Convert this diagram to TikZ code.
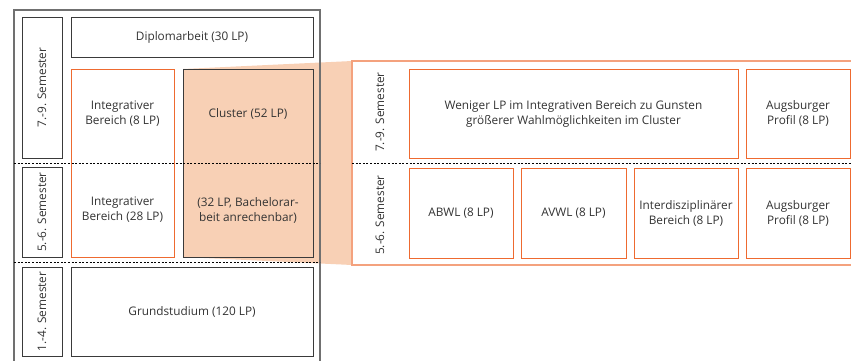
\documentclass[tikz,border=0pt]{standalone}
\usepackage{fontspec}
\setmainfont{Open Sans}
\usetikzlibrary{
    calc,
    positioning
}
\definecolor{framegray}{HTML}{707070}
\definecolor{boxgray}{HTML}{3A3A3A}
\definecolor{textgray}{HTML}{333333}
\definecolor{boxorange}{HTML}{EE6A30}
\definecolor{paleorange}{HTML}{F4A27E}
\definecolor{peach}{HTML}{F8D0B5}
\tikzset{
    every node/.style = {
        inner sep = 0pt,
        outer sep = 0pt,
        align = center,
        text = textgray,
        font = \fontsize{11.8}{15}\selectfont
    },
    size/.style 2 args = {
        minimum width = #1pt,
        minimum height = #2pt
    },
    graybox/.style = {
        draw = boxgray,
        line width = 1pt
    },
    orangebox/.style = {
        draw = boxorange,
        line width = 1pt,
        fill = white
    },
    semester/.style = {
        graybox,
        rotate = 90
    },
    sep line/.style = {
        draw = black,
        line width = 0.7pt,
        dash pattern = on 2pt off 1.6pt
    }
}

\begin{document}
\begin{tikzpicture}[x = 1pt, y = -1pt]
    \useasboundingbox (0,0) rectangle (851,360);
    \clip (0,0) rectangle (851,360);

    % detailed view on the right
    \node[draw = paleorange, line width = 1.4pt, fill = white, size = {560}{204},
          anchor = north west] (detail) at (352,61) {};

    % left side: Diplomstudiengang
    \node[graybox, size = {242}{40}] (diplom) at (192,37) {Diplomarbeit (30 LP)};
    \node[orangebox, size = {103}{188}] (integr) at (122.5,163) {};
    \node[graybox, fill = peach, size = {130}{188}] (cluster) at (248,163) {};
    \node[graybox, size = {242}{89}] (grund) at (192,311.5) {Grundstudium (120 LP)};

    \fill[peach] (cluster.north west) -- (detail.north west)
        -- (detail.south west) -- (cluster.south west) -- cycle;
    \draw[graybox, fill = peach] (cluster.north west) rectangle (cluster.south east);
    \draw[draw = paleorange, line width = 1.4pt] (detail.north west) -- (detail.south west);

    \node at ($(integr.north) + (0,45)$) {Integrativer\\Bereich (8 LP)};
    \node at ($(integr.south) + (0,-47)$) {Integrativer\\Bereich (28 LP)};
    \node at ($(cluster.north) + (0,45)$) {Cluster (52 LP)};
    \node at ($(cluster.south) + (0,-47)$) {(32 LP, Bachelorar-\\beit anrechenbar)};

    \node[semester, size = {141}{40}] (sem79) at (42,87.5) {7.-9. Semester};
    \node[semester, size = {90}{40}] (sem56) at (42,212) {5.-6. Semester};
    \node[semester, size = {89}{40}] (sem14) at (42,311.5) {1.-4. Semester};

    \draw[draw = framegray, line width = 1.3pt] (14,10) rectangle (320,400);
    \coordinate (upper) at (14,163);
    \coordinate (lower) at (14,262);
    \draw[sep line] (upper) -- ++(306,0);
    \draw[sep line] (lower) -- ++(306,0);

    % right side: Bachelor-/Masterstudiengang
    \node[rotate = 90] (rsem79) at (380,112) {7.-9. Semester};
    \node[rotate = 90] (rsem56) at (380,215) {5.-6. Semester};

    \node[orangebox, size = {329}{89}] (weniger) at (573.5,113.5)
        {Weniger LP im Integrativen Bereich zu Gunsten\\gr\"o\ss erer Wahlm\"oglichkeiten im Cluster};
    \node[orangebox, size = {104}{89}] (profil1) at (798,113.5) {Augsburger\\Profil (8 LP)};

    \draw[sep line] (detail.west |- upper) -- ++(520,0);

    \node[orangebox, size = {104}{90}] (abwl) at (461,213) {ABWL (8 LP)};
    \node[orangebox, size = {105}{90}] (avwl) at (573.5,213) {AVWL (8 LP)};
    \node[orangebox, size = {104}{90}] (inter) at (686,213) {Interdisziplin\"arer\\Bereich (8 LP)};
    \node[orangebox, size = {104}{90}] (profil2) at (798,213) {Augsburger\\Profil (8 LP)};
\end{tikzpicture}
\end{document}
